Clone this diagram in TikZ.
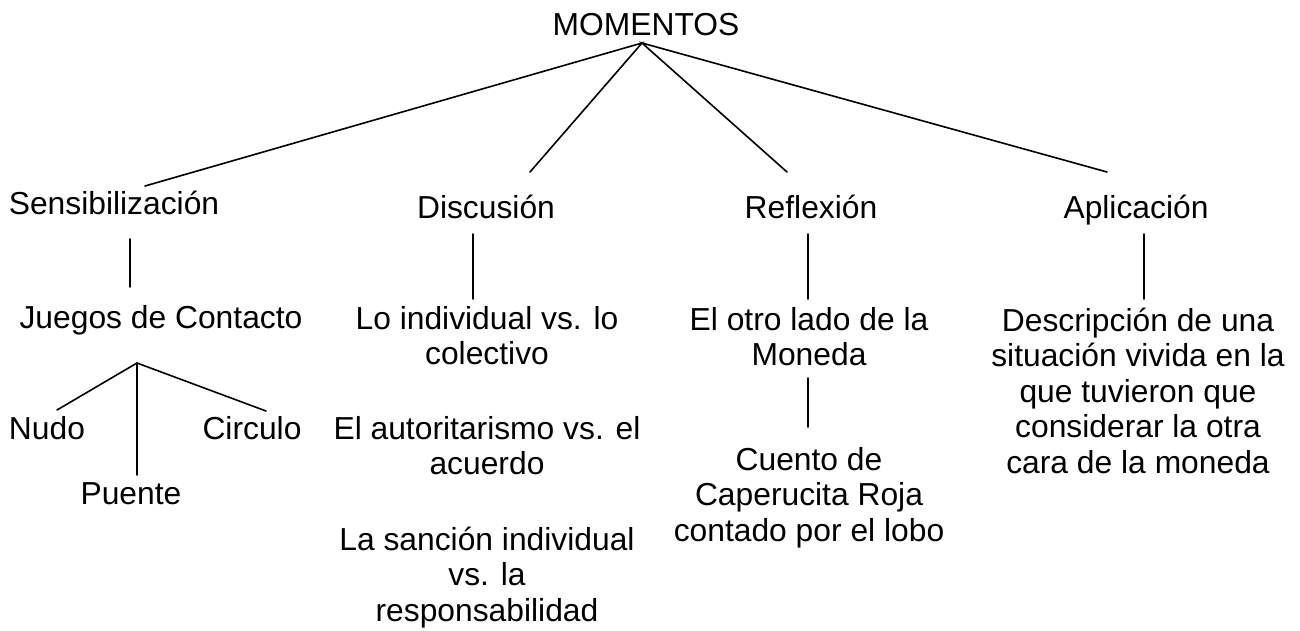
\documentclass[tikz,border=0pt]{standalone}
\usepackage{fontspec}
\setmainfont{Liberation Sans}
\begin{document}
\begin{tikzpicture}[x=1pt,y=-1pt,
  lbl/.style={font=\fontsize{31.8}{35.5}\selectfont, inner sep=0pt, anchor=base, align=center},
  conn/.style={line width=1.6pt, line cap=round}]
\useasboundingbox (0,0) rectangle (1300,630);
% texts (multi-line nodes: base = baseline of last line)
\node[lbl] (mom) at (646,35) {MOMENTOS};
\node[lbl] (sen) at (114,214) {Sensibilización};
\node[lbl] (dis) at (486,218) {Discusión};
\node[lbl] (ref) at (811,218) {Reflexión};
\node[lbl] (apl) at (1136,218) {Aplicación};
\node[lbl] (jue) at (161,328.5) {Juegos de Contacto};
\node[lbl] (nud) at (47,439) {Nudo};
\node[lbl] (cir) at (252,439) {Circulo};
\node[lbl] (pue) at (131,504) {Puente};
\node[lbl] (d1) at (487,364.5) {Lo individual vs. lo\\colectivo};
\node[lbl] (d2) at (487,474.5) {El autoritarismo vs. el\\acuerdo};
\node[lbl] (d3) at (487,621) {La sanción individual\\vs. la\\responsabilidad};
\node[lbl] (r1) at (809,365.5) {El otro lado de la\\Moneda};
\node[lbl] (r2) at (809,541) {Cuento de\\Caperucita Roja\\contado por el lobo};
\node[lbl] (a1) at (1138,473) {Descripción de una\\situación vivida en la\\que tuvieron que\\considerar la otra\\cara de la moneda};
% connector ends
\coordinate (apex) at (642,43);
\coordinate (senT) at (145,186);
\coordinate (disT) at (530,172);
\coordinate (refT) at (787,172);
\coordinate (aplT) at (1107,172);
\coordinate (senB) at (130,239);
\coordinate (jueT) at (130,287);
\coordinate (disB) at (473,234);
\coordinate (d1T) at (473,299);
\coordinate (refB) at (808,234);
\coordinate (r1T) at (808,299);
\coordinate (aplB) at (1144,234);
\coordinate (a1T) at (1144,299);
\coordinate (jueB) at (137,363);
\coordinate (nudT) at (57,410);
\coordinate (cirT) at (266,411);
\coordinate (pueT) at (137,475);
\coordinate (r1B) at (808,378);
\coordinate (r2T) at (808,427);
% connectors
\draw[conn] (senT) -- (apex) -- (disT);
\draw[conn] (refT) -- (apex) -- (aplT);
\draw[conn] (senB) -- (jueT);
\draw[conn] (disB) -- (d1T);
\draw[conn] (refB) -- (r1T);
\draw[conn] (aplB) -- (a1T);
\draw[conn] (nudT) -- (jueB) -- (cirT);
\draw[conn] (jueB) -- (pueT);
\draw[conn] (r1B) -- (r2T);
\end{tikzpicture}
\end{document}
